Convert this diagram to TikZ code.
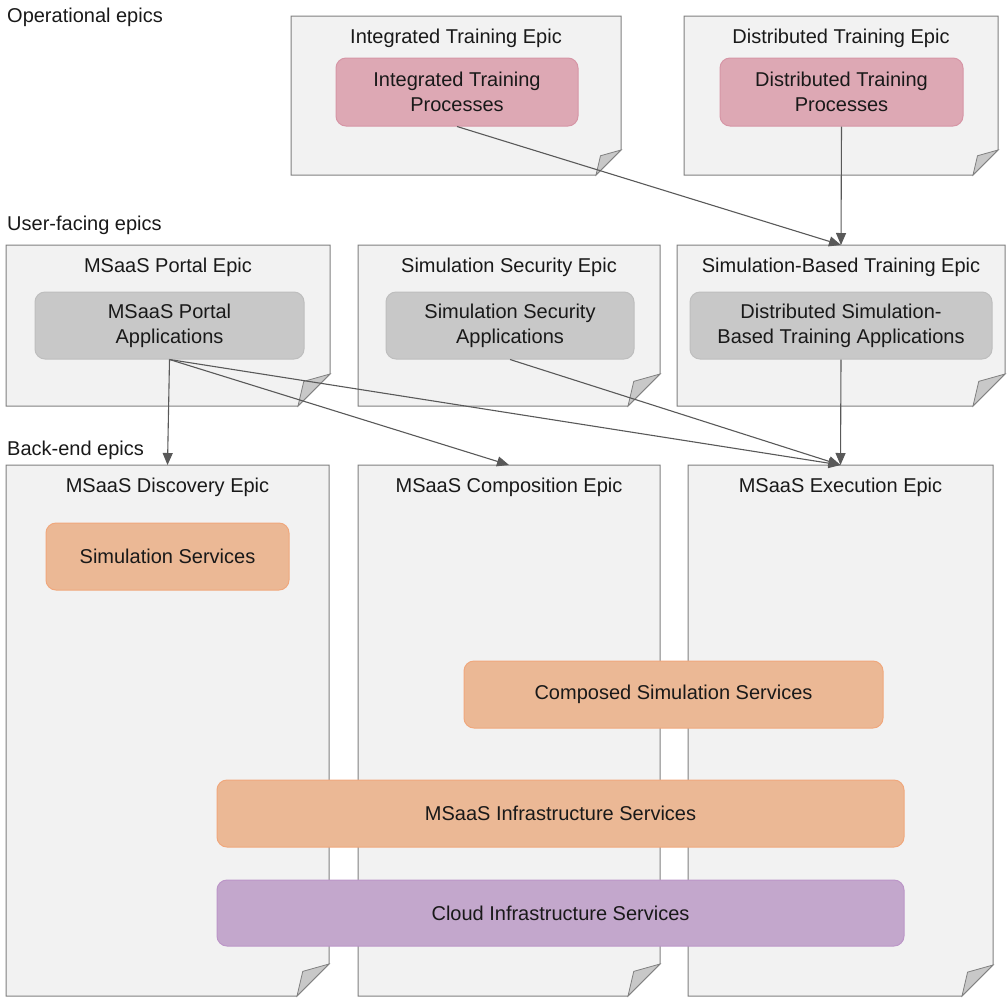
\documentclass[tikz,border=0pt]{standalone}
\usepackage{fontspec}
\setmainfont{Liberation Sans}
\usetikzlibrary{arrows.meta,calc}
\definecolor{pagefill}{RGB}{242,242,242}
\definecolor{pageline}{RGB}{128,128,128}
\definecolor{foldfill}{RGB}{200,200,200}
\definecolor{pinkfill}{RGB}{221,168,180}
\definecolor{pinkline}{RGB}{214,150,166}
\definecolor{grayfill}{RGB}{200,200,200}
\definecolor{grayline}{RGB}{190,190,190}
\definecolor{orangefill}{RGB}{235,184,149}
\definecolor{orangeline}{RGB}{240,168,125}
\definecolor{purplefill}{RGB}{195,167,204}
\definecolor{purpleline}{RGB}{188,150,200}
\definecolor{arrowcol}{RGB}{89,89,89}
\definecolor{txt}{RGB}{25,25,25}
\tikzset{
  pagebox/.style={draw=none,fill=none,inner sep=0pt,outer sep=0pt,anchor=north west},
  pageedge/.style={fill=pagefill,draw=pageline,line width=1pt},
  foldedge/.style={fill=foldfill,draw=pageline,line width=0.8pt},
  epictitle/.style={text=txt,font=\fontsize{20}{25}\selectfont,inner sep=0pt},
  rowlabel/.style={text=txt,font=\fontsize{20}{25}\selectfont,inner sep=0pt,anchor=west},
  innerbox/.style={rounded corners=10pt,line width=1pt,align=center,text=txt,
    font=\fontsize{20}{25}\selectfont,inner sep=0pt},
  pinkbox/.style={innerbox,fill=pinkfill,draw=pinkline},
  graybox/.style={innerbox,fill=grayfill,draw=grayline},
  orangebox/.style={innerbox,fill=orangefill,draw=orangeline},
  purplebox/.style={innerbox,fill=purplefill,draw=purpleline},
  arr/.style={draw=arrowcol,line width=1.1pt,-{Triangle[length=12pt,width=10pt]}},
}
\newcommand\pageshape[2]{%
  \filldraw[pageedge] (#1.north west) -- (#1.north east) -- ($(#1.south east)+(0,-#2)$)
    -- ($(#1.south east)+(-#2,0)$) -- (#1.south west) -- cycle;
  \filldraw[foldedge] ($(#1.south east)+(0,-#2)$) -- ($(#1.south east)+(-0.82*#2,-0.77*#2)$)
    -- ($(#1.south east)+(-#2,0)$) -- cycle;
}
\begin{document}
\begin{tikzpicture}[x=1pt,y=-1pt]
\useasboundingbox (0,0) rectangle (1007,997);
% row labels
\node[rowlabel] (lop) at (7,17) {Operational epics};
\node[rowlabel] (luf) at (7,225) {User-facing epics};
\node[rowlabel] (lbe) at (7,450) {Back-end epics};
% epic pages
\node[pagebox,minimum width=330pt,minimum height=159pt] (itE) at (291,16) {};
\node[pagebox,minimum width=314pt,minimum height=159pt] (dtE) at (684,16) {};
\node[pagebox,minimum width=324pt,minimum height=161pt] (portE) at (6,245) {};
\node[pagebox,minimum width=302pt,minimum height=161pt] (secE) at (358,245) {};
\node[pagebox,minimum width=328pt,minimum height=161pt] (sbtE) at (677,245) {};
\node[pagebox,minimum width=323pt,minimum height=531pt] (discE) at (6,465) {};
\node[pagebox,minimum width=302pt,minimum height=531pt] (compE) at (358,465) {};
\node[pagebox,minimum width=305pt,minimum height=531pt] (exeE) at (688,465) {};
\pageshape{itE}{25}
\pageshape{dtE}{25}
\pageshape{portE}{32}
\pageshape{secE}{32}
\pageshape{sbtE}{32}
\pageshape{discE}{32}
\pageshape{compE}{32}
\pageshape{exeE}{31}
% titles
\node[epictitle] (itT) at ($(itE.north)+(0,22)$) {Integrated Training Epic};
\node[epictitle] (dtT) at ($(dtE.north)+(0,22)$) {Distributed Training Epic};
\node[epictitle] (portT) at ($(portE.north)+(0,22)$) {MSaaS Portal Epic};
\node[epictitle] (secT) at ($(secE.north)+(0,22)$) {Simulation Security Epic};
\node[epictitle] (sbtT) at ($(sbtE.north)+(0,22)$) {Simulation-Based Training Epic};
\node[epictitle] (discT) at ($(discE.north)+(0,22)$) {MSaaS Discovery Epic};
\node[epictitle] (compT) at ($(compE.north)+(0,22)$) {MSaaS Composition Epic};
\node[epictitle] (exeT) at ($(exeE.north)+(0,22)$) {MSaaS Execution Epic};
% inner boxes
\node[pinkbox,minimum width=242pt,minimum height=68pt] (itp) at (457,92) {Integrated Training\\Processes};
\node[pinkbox,minimum width=243pt,minimum height=68pt] (dtp) at (841.5,92) {Distributed Training\\Processes};
\node[graybox,minimum width=269pt,minimum height=67pt] (pa) at (169.5,325.5) {MSaaS Portal\\Applications};
\node[graybox,minimum width=248pt,minimum height=67pt] (sa) at (510,325.5) {Simulation Security\\Applications};
\node[graybox,minimum width=302pt,minimum height=67pt] (sbta) at (841,325.5) {Distributed Simulation-\\Based Training Applications};
\node[orangebox,minimum width=243pt,minimum height=67pt] (ss) at (167.5,556.5) {Simulation Services};
\node[orangebox,minimum width=419pt,minimum height=67pt] (css) at (673.5,694.5) {Composed Simulation Services};
\node[orangebox,minimum width=687pt,minimum height=67pt] (msis) at (560.5,813.5) {MSaaS Infrastructure Services};
\node[purplebox,minimum width=687pt,minimum height=66pt] (cis) at (560.5,913) {Cloud Infrastructure Services};
% connectors
\draw[arr] (itp.south) -- (sbtE.north);
\draw[arr] (dtp.south) -- (sbtE.north);
\draw[arr] (pa.south) -- (discE.north);
\draw[arr] (pa.south) -- (compE.north);
\draw[arr] (pa.south) -- (exeE.north);
\draw[arr] (sa.south) -- (exeE.north);
\draw[arr] (sbta.south) -- (exeE.north);
\end{tikzpicture}
\end{document}
